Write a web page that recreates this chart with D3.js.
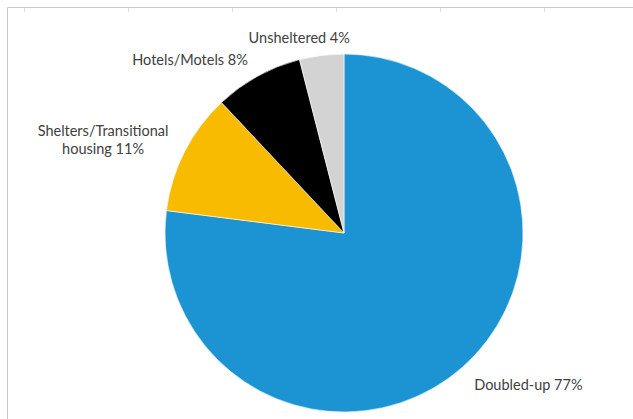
<!DOCTYPE html>
<html>
<head>
<meta charset="utf-8">
<script src="https://cdn.jsdelivr.net/npm/d3@7"></script>
<style>
  html, body { margin: 0; padding: 0; background: #fff; }
  svg { display: block; }
  text { font-family: Lato, "Open Sans", sans-serif; font-size: 14.5px; fill: #404040; }
</style>
</head>
<body>
<svg id="chart" width="633" height="419"></svg>
<script>
// Share of students by nighttime residence
const categories = ["Doubled-up", "Shelters/Transitional housing", "Hotels/Motels", "Unsheltered"];
const values = [77, 11, 8, 4];
const colors = ["#1c94d3", "#f8bb00", "#000000", "#d3d3d3"];
// Label text lines per slice
const labelLines = [
  ["Doubled-up 77%"],
  ["Shelters/Transitional", "housing 11%"],
  ["Hotels/Motels 8%"],
  ["Unsheltered 4%"]
];

const W = 633, H = 419;
const cx = 344, cy = 233, radius = 179;

// Label placement relative to the pie centre, in radius units (x centre, first baseline)
const labelPlacement = [
  [1.03, 0.877],
  [-1.346, -0.542],
  [-0.86, -0.94],
  [-0.25, -1.06]
];

const svg = d3.select("#chart");

// Worksheet frame behind the chart
const frame = svg.append("g");
frame.append("line").attr("x1", 7.5).attr("y1", 7.5).attr("x2", W).attr("y2", 7.5)
  .attr("stroke", "#c8c8c8").attr("stroke-width", 1);
frame.append("line").attr("x1", 7.5).attr("y1", 7.5).attr("x2", 7.5).attr("y2", H)
  .attr("stroke", "#c8c8c8").attr("stroke-width", 1);
frame.selectAll("line.tick").data(d3.range(24, W, 104)).join("line")
  .attr("class", "tick")
  .attr("x1", d => d + 0.5).attr("x2", d => d + 0.5)
  .attr("y1", 8).attr("y2", 12)
  .attr("stroke", "#dcdcdc").attr("stroke-width", 1);

const data = categories.map((c, i) => ({ category: c, value: values[i], color: colors[i], lines: labelLines[i], place: labelPlacement[i] }));

const pie = d3.pie().value(d => d.value).sort(null);
const arc = d3.arc().innerRadius(0).outerRadius(radius);

const g = svg.append("g").attr("transform", `translate(${cx},${cy})`);

g.selectAll("path").data(pie(data)).join("path")
  .attr("d", arc)
  .attr("fill", d => d.data.color)
  .attr("stroke", "#ffffff")
  .attr("stroke-width", 0.6);

const labels = g.selectAll("text.label").data(data).join("text")
  .attr("class", "label")
  .attr("text-anchor", "middle")
  .attr("x", d => d.place[0] * radius)
  .attr("y", d => d.place[1] * radius);

labels.selectAll("tspan").data(d => d.lines.map(l => ({ l, x: d.place[0] * radius }))).join("tspan")
  .attr("x", t => t.x)
  .attr("dy", (t, i) => i === 0 ? 0 : 18)
  .text(t => t.l);
</script>
</body>
</html>
